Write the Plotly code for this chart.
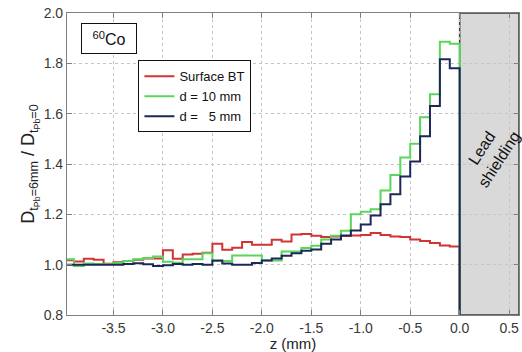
import plotly.graph_objects as go

# Bin edges along z (mm): 0.1 mm bins from -4.0 up to the lead interface at 0.0
z_start = -4.0
bin_width = 0.1
n_bins = 40
z_edges = [round(z_start + i * bin_width, 2) for i in range(n_bins + 1)]

# Dose ratio D(t_Pb=6mm) / D(t_Pb=0) per bin
surface_bt = [1.018, 1.013, 1.024, 1.020, 1.004, 1.010, 1.015, 1.020, 1.025, 1.025,
              1.057, 1.024, 1.040, 1.043, 1.047, 1.083, 1.059, 1.067, 1.090, 1.079,
              1.079, 1.099, 1.092, 1.120, 1.122, 1.115, 1.110, 1.112, 1.114, 1.116,
              1.118, 1.126, 1.118, 1.112, 1.110, 1.100, 1.094, 1.086, 1.076, 1.072]
d_10mm = [1.022, 0.995, 1.005, 1.003, 1.003, 1.007, 1.015, 1.022, 1.026, 1.032,
          1.012, 1.008, 1.022, 1.022, 1.045, 1.015, 1.015, 1.036, 1.036, 1.036,
          1.017, 1.017, 1.052, 1.052, 1.066, 1.075, 1.100, 1.115, 1.135, 1.200,
          1.210, 1.220, 1.295, 1.356, 1.426, 1.480, 1.586, 1.677, 1.886, 1.878]
d_5mm = [1.000, 1.000, 1.000, 1.000, 1.000, 1.000, 1.003, 1.006, 1.002, 0.995,
         0.998, 1.003, 1.000, 1.003, 1.000, 1.017, 1.005, 1.000, 1.000, 1.007,
         1.017, 1.025, 1.035, 1.045, 1.055, 1.060, 1.083, 1.100, 1.116, 1.136,
         1.160, 1.195, 1.240, 1.280, 1.350, 1.410, 1.510, 1.630, 1.816, 1.780]

series_names = ["Surface BT", "d = 10 mm", "d =&nbsp;&nbsp; 5 mm"]
series_colors = ["#d03434", "#5ad65a", "#1c2858"]

x_range = [-3.97, 0.6]
y_range = [0.8, 2.0]
x_ticks = [-3.5, -3.0, -2.5, -2.0, -1.5, -1.0, -0.5, 0.0, 0.5]
y_ticks = [0.8, 1.0, 1.2, 1.4, 1.6, 1.8, 2.0]
lead_extent = [0.0, 0.6]

font_family = "Liberation Sans, Arial, sans-serif"

fig = go.Figure()

for name, vals, color in zip(series_names, [surface_bt, d_10mm, d_5mm], series_colors):
    # step outline: each bin level held to its right edge, then dropping at the interface
    xs = z_edges[:-1] + [z_edges[-1], z_edges[-1]]
    ys = vals + [vals[-1], y_range[0]]
    fig.add_trace(go.Scatter(
        x=xs, y=ys, mode="lines", name=name,
        line=dict(color=color, width=2, shape="hv"),
    ))

# Lead shielding block
fig.add_shape(type="rect", xref="x", yref="y",
              x0=lead_extent[0], x1=lead_extent[1], y0=y_range[0], y1=y_range[1],
              fillcolor="#d9d9d9", line=dict(color="#3a3a3a", width=1.5), layer="below")

fig.add_annotation(x=0.31, y=1.44, xref="x", yref="y",
                   text="Lead<br>shielding", showarrow=False, textangle=-57,
                   font=dict(family=font_family, size=16, color="#111111"))

# Source label
fig.add_annotation(xref="paper", yref="paper", x=0.030, y=0.968, xanchor="left", yanchor="top",
                   text="<sup>60</sup>Co", showarrow=False,
                   font=dict(family=font_family, size=16, color="#111111"),
                   bordercolor="#111111", borderwidth=1, borderpad=6, bgcolor="white",
                   width=42, height=17)

axis_common = dict(
    showgrid=True, gridcolor="#c4c4c4", griddash="dot", gridwidth=1,
    showline=True, linecolor="#808080", linewidth=1.2, mirror="ticks",
    ticks="inside", ticklen=5, tickcolor="#808080",
    tickfont=dict(family=font_family, size=14, color="#383838"),
    zeroline=False,
)

fig.update_xaxes(range=x_range, tickvals=x_ticks, ticktext=[f"{t:.1f}" for t in x_ticks],
                 title=dict(text="z (mm)", font=dict(family=font_family, size=15, color="#222222"), standoff=2),
                 **axis_common)
fig.update_yaxes(range=y_range, tickvals=y_ticks, ticktext=[f"{t:.1f}" for t in y_ticks],
                 title=dict(text="D<sub>t<sub>Pb</sub>=6mm</sub> / D<sub>t<sub>Pb</sub>=0</sub>",
                            font=dict(family=font_family, size=18, color="#222222"), standoff=4),
                 **axis_common)

fig.update_layout(
    width=522, height=352,
    margin=dict(l=67, r=3, t=13, b=37),
    paper_bgcolor="white", plot_bgcolor="white",
    showlegend=True,
    legend=dict(x=0.158, y=0.843, xanchor="left", yanchor="top",
                bgcolor="white", bordercolor="#111111", borderwidth=1,
                font=dict(family=font_family, size=13, color="#111111"),
                tracegroupgap=0, itemwidth=30),
)

fig.write_html("out.html")
